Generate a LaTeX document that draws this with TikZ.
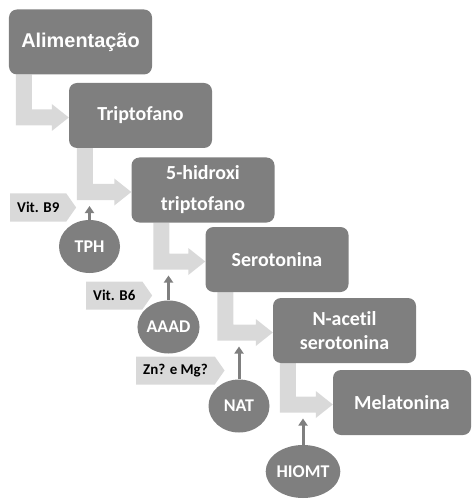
\documentclass[tikz,border=0pt]{standalone}
\usepackage{fontspec}
\setmainfont{Carlito-Regular.ttf}[BoldFont=Carlito-Bold.ttf,Ligatures=NoCommon]
\newfontfamily\headfont{Liberation Sans}[BoldFont={Liberation Sans Bold}]
\usetikzlibrary{arrows.meta,positioning,calc,backgrounds,shapes.geometric,shapes.symbols}
\definecolor{boxgray}{HTML}{7F7F7F}
\definecolor{flowgray}{HTML}{D9D9D9}
\tikzset{stage/.style={rectangle,rounded corners=8bp,fill=boxgray,text=white,minimum width=143bp,minimum height=65bp,inner sep=2pt,align=center,font=\bfseries\fontsize{20}{24}\selectfont},enzyme/.style={ellipse,fill=boxgray,text=white,minimum width=61bp,minimum height=53bp,inner sep=0pt,font=\bfseries\fontsize{18}{20}\selectfont},cofactor/.style={signal,signal to=east,signal pointer angle=110,fill=flowgray,minimum height=28bp,inner xsep=7bp,inner ysep=2pt,anchor=west,font=\bfseries\fontsize{15}{18}\selectfont},flow/.style={fill=flowgray},catalysis/.style={-{Triangle[length=7bp,width=9bp]},draw=boxgray,line width=3bp}}
\begin{document}
\begin{tikzpicture}[x=1bp,y=-1bp]
\useasboundingbox (0,0) rectangle (472,499);
\node[stage,font=\headfont\bfseries\fontsize{20}{24}\selectfont] (alim) at (80.5,42) {Alimentação};
\foreach \n/\x/\y/\t in {trip/140.5/115.5/{Triptofano},hidr/203/190/{5-hidroxi\\[7bp]triptofano},sero/277/259.5/{Serotonina},nace/344.5/330.5/{N-acetil\\serotonina}}{\node[stage] (\n) at (\x,\y) {\t};}
\node[stage,minimum width=138bp] (mela) at (402,402.5) {Melatonina};
% bent arrows between the stages
\begin{scope}[on background layer]
\foreach \a/\b/\o [count=\i] in {alim/trip/7,trip/hidr/8,hidr/sero/22,sero/nace/12,nace/mela/7}{
\coordinate (t\i) at ($(\a.south west)+(\o,0)$);
\coordinate (m\i) at ($(\b.west)+(0,2)$);
\coordinate (base\i) at ($(m\i)+(0,14)$);
\fill[flow] (t\i) -- ++(16,0) |- ($(m\i)+(-17,-8)$) -- ++(0,-5.5) -- (m\i) -- ++(-17,13.5) -- ++(0,-5.5) -| (t\i) -- cycle;
}
\end{scope}
\foreach \n/\x/\y/\t/\k in {tph/89.5/246.5/TPH/2,aaad/168.5/327/AAAD/3,nat/239/406/NAT/4,hiomt/303/471.5/HIOMT/5}{
\node[enzyme] (\n) at (\x,\y) {\t};
\draw[catalysis] (\n.north) -- (\n.north |- base\k);
}
\node[cofactor] (b9) at (10,207.5) {Vit. B9};
\node[cofactor] (b6) at (86,295.5) {Vit. B6};
\node[cofactor] (znmg) at (136,370.5) {Zn? e Mg?};
\end{tikzpicture}
\end{document}
